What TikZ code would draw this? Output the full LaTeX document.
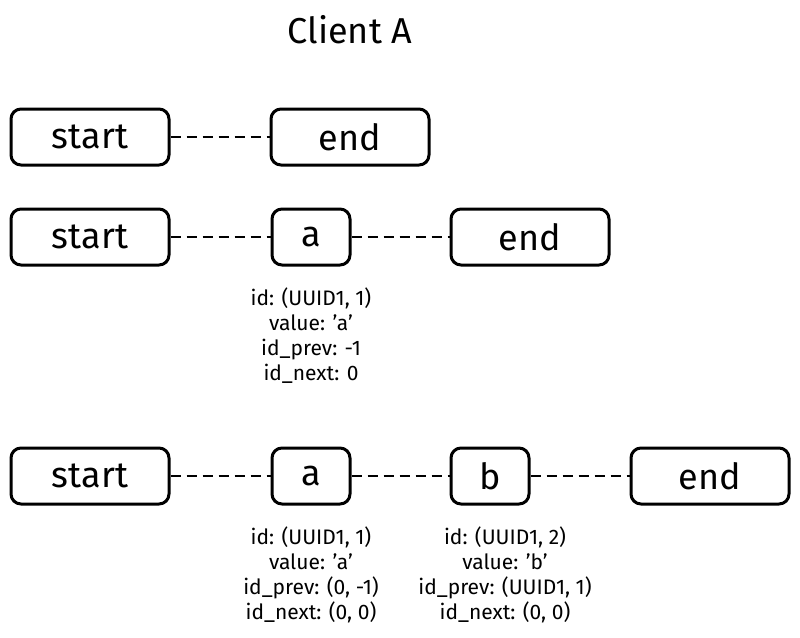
\documentclass[tikz,border=0pt]{standalone}
\usepackage{fontspec}
\setmainfont{Fira Sans}

\begin{document}
\begin{tikzpicture}
  [x=1pt,y=-1pt,
   box/.style={draw,line width=3pt,rounded corners=10pt,minimum height=56pt,font=\fontsize{36}{38}\selectfont},
   wide/.style={box,minimum width=158pt},
   small/.style={box,minimum width=78pt},
   info/.style={align=center,font=\fontsize{21}{25}\selectfont},
   link/.style={line width=2pt,dash pattern=on 10pt off 6pt}]
  \useasboundingbox (0,0) rectangle (800,637);

  \node[font=\fontsize{36}{38}\selectfont] (title) at (350,30) {Client A};

  % row 1
  \node[wide] (s1) at (90,137) {start};
  \node[wide] (e1) at (350,137) {end};

  % row 2
  \node[wide] (s2) at (90,237) {start};
  \node[small] (a2) at (311,237) {a};
  \node[wide] (e2) at (530,237) {end};
  \node[info] (ia2) at (311,336) {id: (UUID1, 1)\\value: 'a'\\id\_prev: -1\\id\_next: 0};

  % row 3
  \node[wide] (s3) at (90,476) {start};
  \node[small] (a3) at (311,476) {a};
  \node[small] (b3) at (490,476) {b};
  \node[wide] (e3) at (710,476) {end};
  \node[info] (ia3) at (311,575) {id: (UUID1, 1)\\value: 'a'\\id\_prev: (0, -1)\\id\_next: (0, 0)};
  \node[info] (ib3) at (505,575) {id: (UUID1, 2)\\value: 'b'\\id\_prev: (UUID1, 1)\\id\_next: (0, 0)};

  \foreach \from/\to in {s1/e1,s2/a2,a2/e2,s3/a3,a3/b3,b3/e3}
    \draw[link] (\from) -- (\to);
\end{tikzpicture}
\end{document}
